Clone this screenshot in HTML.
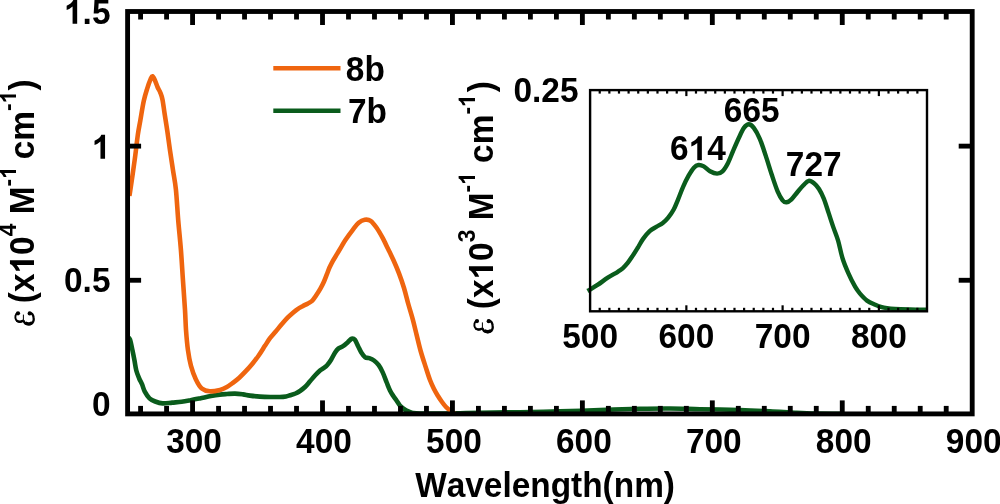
<!DOCTYPE html>
<html><head><meta charset="utf-8"><style>
html,body{margin:0;padding:0;background:#fff;width:1000px;height:504px;overflow:hidden}
svg{display:block;will-change:transform}
text{font-family:"Liberation Sans",sans-serif;font-weight:bold;fill:#000;font-kerning:none}
.ser{font-family:"Liberation Serif",serif;font-style:italic;font-weight:normal;fill:none}
</style></head><body>
<svg width="1000" height="504" viewBox="0 0 1000 504">
<rect width="1000" height="504" fill="#fff"/>
<g fill="none" stroke-linejoin="round" stroke-linecap="butt">
<path d="M128.00,337.50 C128.33,337.83 129.25,337.33 130.00,339.50 C130.75,341.67 131.77,347.08 132.50,350.50 C133.23,353.92 133.77,356.67 134.40,360.00 C135.03,363.33 135.50,367.42 136.30,370.50 C137.10,373.58 138.25,376.22 139.20,378.50 C140.15,380.78 141.07,382.00 142.00,384.20 C142.93,386.40 143.55,389.35 144.80,391.70 C146.05,394.05 147.77,396.67 149.50,398.30 C151.23,399.93 153.00,400.65 155.20,401.50 C157.40,402.35 159.87,403.22 162.70,403.40 C165.53,403.58 169.05,402.87 172.20,402.60 C175.35,402.33 178.65,402.17 181.60,401.80 C184.55,401.43 186.87,400.97 189.90,400.40 C192.93,399.83 196.28,399.13 199.80,398.40 C203.32,397.67 207.68,396.63 211.00,396.00 C214.32,395.37 217.03,394.93 219.70,394.60 C222.37,394.27 224.45,394.17 227.00,394.00 C229.55,393.83 232.33,393.53 235.00,393.60 C237.67,393.67 240.50,394.07 243.00,394.40 C245.50,394.73 247.17,395.23 250.00,395.60 C252.83,395.97 256.67,396.37 260.00,396.60 C263.33,396.83 266.67,396.93 270.00,397.00 C273.33,397.07 277.33,397.10 280.00,397.00 C282.67,396.90 284.33,396.68 286.00,396.40 C287.67,396.12 288.42,395.78 290.00,395.30 C291.58,394.82 293.83,394.22 295.50,393.50 C297.17,392.78 298.42,392.08 300.00,391.00 C301.58,389.92 303.33,388.62 305.00,387.00 C306.67,385.38 308.33,383.22 310.00,381.30 C311.67,379.38 313.33,377.30 315.00,375.50 C316.67,373.70 318.63,371.68 320.00,370.50 C321.37,369.32 322.02,369.28 323.20,368.40 C324.38,367.52 325.78,366.65 327.10,365.20 C328.42,363.75 329.77,361.82 331.10,359.70 C332.43,357.58 333.90,354.35 335.10,352.50 C336.30,350.65 336.98,349.65 338.30,348.60 C339.62,347.55 341.42,347.27 343.00,346.20 C344.58,345.13 346.35,343.45 347.80,342.20 C349.25,340.95 350.52,339.10 351.70,338.70 C352.88,338.30 353.83,338.55 354.90,339.80 C355.97,341.05 357.03,344.08 358.10,346.20 C359.17,348.32 360.12,350.65 361.30,352.50 C362.48,354.35 363.88,356.37 365.20,357.30 C366.52,358.23 367.73,357.57 369.20,358.10 C370.67,358.63 372.42,359.32 374.00,360.50 C375.58,361.68 377.25,363.22 378.70,365.20 C380.15,367.18 381.37,369.52 382.70,372.40 C384.03,375.28 385.48,379.48 386.70,382.50 C387.92,385.52 388.90,388.25 390.00,390.50 C391.10,392.75 392.22,394.33 393.30,396.00 C394.38,397.67 395.42,398.93 396.50,400.50 C397.58,402.07 398.70,404.08 399.80,405.40 C400.90,406.72 402.00,407.53 403.10,408.40 C404.20,409.27 405.32,410.00 406.40,410.60 C407.48,411.20 408.50,411.60 409.60,412.00 C410.70,412.40 411.27,412.75 413.00,413.00 C414.73,413.25 415.50,413.40 420.00,413.50 C424.50,413.60 433.33,413.65 440.00,413.60 C446.67,413.55 453.33,413.33 460.00,413.20 C466.67,413.07 470.00,412.97 480.00,412.80 C490.00,412.63 506.67,412.43 520.00,412.20 C533.33,411.97 546.67,411.77 560.00,411.40 C573.33,411.03 586.67,410.43 600.00,410.00 C613.33,409.57 628.33,409.05 640.00,408.80 C651.67,408.55 660.00,408.43 670.00,408.50 C680.00,408.57 688.33,408.95 700.00,409.20 C711.67,409.45 728.33,409.65 740.00,410.00 C751.67,410.35 760.83,410.83 770.00,411.30 C779.17,411.77 787.50,412.42 795.00,412.80 C802.50,413.18 807.50,413.45 815.00,413.60 C822.50,413.75 835.83,413.68 840.00,413.70" stroke="#0A5C1C" stroke-width="4.6"/>
<path d="M129.40,196.00 C129.53,195.17 129.32,197.03 130.20,191.00 C131.08,184.97 133.43,169.13 134.70,159.80 C135.97,150.47 136.87,141.53 137.80,135.00 C138.73,128.47 139.31,126.25 140.30,120.60 C141.29,114.95 142.60,106.43 143.75,101.10 C144.90,95.77 146.04,92.30 147.20,88.60 C148.36,84.90 149.82,80.95 150.70,78.90 C151.58,76.85 151.80,76.07 152.50,76.30 C153.20,76.53 154.05,78.48 154.90,80.30 C155.75,82.12 156.68,85.12 157.60,87.20 C158.52,89.28 159.58,90.72 160.40,92.80 C161.22,94.88 161.80,96.23 162.50,99.70 C163.20,103.17 163.78,108.27 164.60,113.60 C165.42,118.93 166.52,125.67 167.40,131.70 C168.28,137.73 168.98,143.48 169.90,149.80 C170.82,156.12 171.90,163.00 172.90,169.60 C173.90,176.20 175.02,181.00 175.90,189.40 C176.78,197.80 177.37,209.93 178.20,220.00 C179.03,230.07 180.12,239.88 180.90,249.80 C181.68,259.72 182.22,269.47 182.90,279.50 C183.58,289.53 184.48,301.62 185.00,310.00 C185.52,318.38 185.52,323.18 186.00,329.80 C186.48,336.42 187.08,343.73 187.90,349.70 C188.72,355.67 189.57,360.65 190.90,365.60 C192.23,370.55 194.08,375.60 195.90,379.40 C197.72,383.20 199.48,386.42 201.80,388.40 C204.12,390.38 206.77,391.05 209.80,391.30 C212.83,391.55 217.23,390.57 220.00,389.90 C222.77,389.23 224.25,388.48 226.40,387.30 C228.55,386.12 230.75,384.40 232.90,382.80 C235.05,381.20 237.15,379.63 239.30,377.70 C241.45,375.77 243.65,373.48 245.80,371.20 C247.95,368.92 250.05,366.62 252.20,364.00 C254.35,361.38 256.55,358.57 258.70,355.50 C260.85,352.43 263.22,348.48 265.10,345.60 C266.98,342.72 268.23,340.55 270.00,338.20 C271.77,335.85 273.75,333.82 275.70,331.50 C277.65,329.18 279.72,326.60 281.70,324.30 C283.68,322.00 285.62,319.72 287.60,317.70 C289.58,315.68 291.87,313.68 293.60,312.20 C295.33,310.72 296.50,309.80 298.00,308.80 C299.50,307.80 300.93,307.10 302.60,306.20 C304.27,305.30 306.42,304.28 308.00,303.40 C309.58,302.52 310.83,302.10 312.10,300.90 C313.37,299.70 314.22,298.25 315.60,296.20 C316.98,294.15 319.02,291.02 320.40,288.60 C321.78,286.18 322.85,284.02 323.90,281.70 C324.95,279.38 325.78,277.02 326.70,274.70 C327.62,272.38 328.37,270.12 329.40,267.80 C330.43,265.48 331.62,263.12 332.90,260.80 C334.18,258.48 335.70,256.22 337.10,253.90 C338.50,251.58 339.92,249.22 341.30,246.90 C342.68,244.58 343.48,242.85 345.40,240.00 C347.32,237.15 350.58,232.67 352.80,229.80 C355.02,226.93 356.72,224.47 358.70,222.80 C360.68,221.13 362.72,220.13 364.70,219.80 C366.68,219.47 368.62,219.47 370.60,220.80 C372.58,222.13 374.62,224.98 376.60,227.80 C378.58,230.62 380.60,234.20 382.50,237.70 C384.40,241.20 386.17,245.03 388.00,248.80 C389.83,252.57 391.67,256.20 393.50,260.30 C395.33,264.40 397.25,268.78 399.00,273.40 C400.75,278.02 402.45,282.90 404.00,288.00 C405.55,293.10 406.82,298.70 408.30,304.00 C409.78,309.30 411.48,314.53 412.90,319.80 C414.32,325.07 415.48,330.32 416.80,335.60 C418.12,340.88 419.30,346.20 420.80,351.50 C422.30,356.80 424.27,362.65 425.80,367.40 C427.33,372.15 428.63,376.40 430.00,380.00 C431.37,383.60 432.67,386.33 434.00,389.00 C435.33,391.67 436.67,393.83 438.00,396.00 C439.33,398.17 440.67,400.17 442.00,402.00 C443.33,403.83 444.67,405.58 446.00,407.00 C447.33,408.42 448.92,409.58 450.00,410.50 C451.08,411.42 451.67,412.00 452.50,412.50 C453.33,413.00 454.58,413.33 455.00,413.50" stroke="#EF650F" stroke-width="4.6"/>
</g>
<g stroke="#000" stroke-width="4.85" fill="none">
<line x1="140.59" y1="413.9" x2="140.59" y2="405.9"/><line x1="140.59" y1="11.5" x2="140.59" y2="19.5"/><line x1="166.58" y1="413.9" x2="166.58" y2="405.9"/><line x1="166.58" y1="11.5" x2="166.58" y2="19.5"/><line x1="192.57" y1="413.9" x2="192.57" y2="400.4"/><line x1="192.57" y1="11.5" x2="192.57" y2="25.0"/><line x1="218.56" y1="413.9" x2="218.56" y2="405.9"/><line x1="218.56" y1="11.5" x2="218.56" y2="19.5"/><line x1="244.54" y1="413.9" x2="244.54" y2="405.9"/><line x1="244.54" y1="11.5" x2="244.54" y2="19.5"/><line x1="270.53" y1="413.9" x2="270.53" y2="405.9"/><line x1="270.53" y1="11.5" x2="270.53" y2="19.5"/><line x1="296.52" y1="413.9" x2="296.52" y2="405.9"/><line x1="296.52" y1="11.5" x2="296.52" y2="19.5"/><line x1="322.51" y1="413.9" x2="322.51" y2="400.4"/><line x1="322.51" y1="11.5" x2="322.51" y2="25.0"/><line x1="348.50" y1="413.9" x2="348.50" y2="405.9"/><line x1="348.50" y1="11.5" x2="348.50" y2="19.5"/><line x1="374.48" y1="413.9" x2="374.48" y2="405.9"/><line x1="374.48" y1="11.5" x2="374.48" y2="19.5"/><line x1="400.47" y1="413.9" x2="400.47" y2="405.9"/><line x1="400.47" y1="11.5" x2="400.47" y2="19.5"/><line x1="426.46" y1="413.9" x2="426.46" y2="405.9"/><line x1="426.46" y1="11.5" x2="426.46" y2="19.5"/><line x1="452.45" y1="413.9" x2="452.45" y2="400.4"/><line x1="452.45" y1="11.5" x2="452.45" y2="25.0"/><line x1="478.43" y1="413.9" x2="478.43" y2="405.9"/><line x1="478.43" y1="11.5" x2="478.43" y2="19.5"/><line x1="504.42" y1="413.9" x2="504.42" y2="405.9"/><line x1="504.42" y1="11.5" x2="504.42" y2="19.5"/><line x1="530.41" y1="413.9" x2="530.41" y2="405.9"/><line x1="530.41" y1="11.5" x2="530.41" y2="19.5"/><line x1="556.40" y1="413.9" x2="556.40" y2="405.9"/><line x1="556.40" y1="11.5" x2="556.40" y2="19.5"/><line x1="582.38" y1="413.9" x2="582.38" y2="400.4"/><line x1="582.38" y1="11.5" x2="582.38" y2="25.0"/><line x1="608.37" y1="413.9" x2="608.37" y2="405.9"/><line x1="608.37" y1="11.5" x2="608.37" y2="19.5"/><line x1="634.36" y1="413.9" x2="634.36" y2="405.9"/><line x1="634.36" y1="11.5" x2="634.36" y2="19.5"/><line x1="660.35" y1="413.9" x2="660.35" y2="405.9"/><line x1="660.35" y1="11.5" x2="660.35" y2="19.5"/><line x1="686.34" y1="413.9" x2="686.34" y2="405.9"/><line x1="686.34" y1="11.5" x2="686.34" y2="19.5"/><line x1="712.32" y1="413.9" x2="712.32" y2="400.4"/><line x1="712.32" y1="11.5" x2="712.32" y2="25.0"/><line x1="738.31" y1="413.9" x2="738.31" y2="405.9"/><line x1="738.31" y1="11.5" x2="738.31" y2="19.5"/><line x1="764.30" y1="413.9" x2="764.30" y2="405.9"/><line x1="764.30" y1="11.5" x2="764.30" y2="19.5"/><line x1="790.29" y1="413.9" x2="790.29" y2="405.9"/><line x1="790.29" y1="11.5" x2="790.29" y2="19.5"/><line x1="816.27" y1="413.9" x2="816.27" y2="405.9"/><line x1="816.27" y1="11.5" x2="816.27" y2="19.5"/><line x1="842.26" y1="413.9" x2="842.26" y2="400.4"/><line x1="842.26" y1="11.5" x2="842.26" y2="25.0"/><line x1="868.25" y1="413.9" x2="868.25" y2="405.9"/><line x1="868.25" y1="11.5" x2="868.25" y2="19.5"/><line x1="894.24" y1="413.9" x2="894.24" y2="405.9"/><line x1="894.24" y1="11.5" x2="894.24" y2="19.5"/><line x1="920.22" y1="413.9" x2="920.22" y2="405.9"/><line x1="920.22" y1="11.5" x2="920.22" y2="19.5"/><line x1="946.21" y1="413.9" x2="946.21" y2="405.9"/><line x1="946.21" y1="11.5" x2="946.21" y2="19.5"/><line x1="127.6" y1="280.27" x2="141.1" y2="280.27"/><line x1="972.2" y1="280.27" x2="958.7" y2="280.27"/><line x1="127.6" y1="146.13" x2="141.1" y2="146.13"/><line x1="972.2" y1="146.13" x2="958.7" y2="146.13"/>
<rect x="127.6" y="11.5" width="844.60" height="402.40" stroke-linejoin="miter"/>
</g>
<path d="M587.50,291.00 C587.92,290.77 588.27,290.65 590.00,289.60 C591.73,288.55 594.93,286.68 597.90,284.70 C600.87,282.72 604.48,279.85 607.80,277.70 C611.12,275.55 615.32,273.37 617.80,271.80 C620.28,270.23 621.05,269.78 622.70,268.30 C624.35,266.82 626.05,264.97 627.70,262.90 C629.35,260.83 630.95,258.38 632.60,255.90 C634.25,253.42 635.85,250.83 637.60,248.00 C639.35,245.17 641.08,241.70 643.10,238.90 C645.12,236.10 647.52,233.20 649.70,231.20 C651.88,229.20 654.02,228.27 656.20,226.90 C658.38,225.53 660.80,224.55 662.80,223.00 C664.80,221.45 666.38,219.85 668.20,217.60 C670.02,215.35 672.07,212.50 673.70,209.50 C675.33,206.50 676.42,203.42 678.00,199.60 C679.58,195.78 681.43,190.58 683.20,186.60 C684.97,182.62 686.82,178.85 688.60,175.70 C690.38,172.55 692.27,169.48 693.90,167.70 C695.53,165.92 696.75,165.22 698.40,165.00 C700.05,164.78 701.87,165.35 703.80,166.40 C705.73,167.45 707.78,170.10 710.00,171.30 C712.22,172.50 715.02,173.60 717.10,173.60 C719.18,173.60 720.70,173.03 722.50,171.30 C724.30,169.57 726.12,166.63 727.90,163.20 C729.68,159.77 731.37,154.93 733.20,150.70 C735.03,146.47 737.12,141.60 738.90,137.80 C740.68,134.00 742.25,130.15 743.90,127.90 C745.55,125.65 747.15,124.30 748.80,124.30 C750.45,124.30 751.97,125.48 753.80,127.90 C755.63,130.32 757.82,134.18 759.80,138.80 C761.78,143.42 763.72,149.65 765.70,155.60 C767.68,161.55 769.72,168.55 771.70,174.50 C773.68,180.45 775.78,187.00 777.60,191.30 C779.42,195.60 781.12,198.47 782.60,200.30 C784.08,202.13 785.02,202.47 786.50,202.30 C787.98,202.13 789.67,201.02 791.50,199.30 C793.33,197.58 795.52,194.33 797.50,192.00 C799.48,189.67 801.53,187.17 803.40,185.30 C805.27,183.43 806.88,181.10 808.70,180.80 C810.52,180.50 812.58,182.13 814.30,183.50 C816.02,184.87 817.42,186.48 819.00,189.00 C820.58,191.52 822.20,194.62 823.80,198.60 C825.40,202.58 827.02,208.15 828.60,212.90 C830.18,217.65 831.72,222.48 833.30,227.10 C834.88,231.72 836.55,235.37 838.10,240.60 C839.65,245.83 840.92,253.13 842.60,258.50 C844.28,263.87 846.12,268.10 848.20,272.80 C850.28,277.50 853.13,283.23 855.10,286.70 C857.07,290.17 858.02,291.28 860.00,293.60 C861.98,295.92 864.45,298.75 867.00,300.60 C869.55,302.45 873.00,303.67 875.30,304.70 C877.60,305.73 878.85,306.22 880.80,306.80 C882.75,307.38 884.63,307.83 887.00,308.20 C889.37,308.57 891.17,308.78 895.00,309.00 C898.83,309.22 904.83,309.37 910.00,309.50 C915.17,309.63 923.33,309.75 926.00,309.80" stroke="#0A5C1C" stroke-width="4.4" fill="none" stroke-linejoin="round"/>
<g stroke="#000" stroke-width="2.2" fill="none">
<line x1="599.73" y1="311.3" x2="599.73" y2="307.8"/><line x1="599.73" y1="90.1" x2="599.73" y2="93.6"/><line x1="609.35" y1="311.3" x2="609.35" y2="307.8"/><line x1="609.35" y1="90.1" x2="609.35" y2="93.6"/><line x1="618.98" y1="311.3" x2="618.98" y2="307.8"/><line x1="618.98" y1="90.1" x2="618.98" y2="93.6"/><line x1="628.60" y1="311.3" x2="628.60" y2="307.8"/><line x1="628.60" y1="90.1" x2="628.60" y2="93.6"/><line x1="638.23" y1="311.3" x2="638.23" y2="307.8"/><line x1="638.23" y1="90.1" x2="638.23" y2="93.6"/><line x1="647.85" y1="311.3" x2="647.85" y2="307.8"/><line x1="647.85" y1="90.1" x2="647.85" y2="93.6"/><line x1="657.48" y1="311.3" x2="657.48" y2="307.8"/><line x1="657.48" y1="90.1" x2="657.48" y2="93.6"/><line x1="667.11" y1="311.3" x2="667.11" y2="307.8"/><line x1="667.11" y1="90.1" x2="667.11" y2="93.6"/><line x1="676.73" y1="311.3" x2="676.73" y2="307.8"/><line x1="676.73" y1="90.1" x2="676.73" y2="93.6"/><line x1="686.36" y1="311.3" x2="686.36" y2="305.3"/><line x1="686.36" y1="90.1" x2="686.36" y2="96.1"/><line x1="695.98" y1="311.3" x2="695.98" y2="307.8"/><line x1="695.98" y1="90.1" x2="695.98" y2="93.6"/><line x1="705.61" y1="311.3" x2="705.61" y2="307.8"/><line x1="705.61" y1="90.1" x2="705.61" y2="93.6"/><line x1="715.23" y1="311.3" x2="715.23" y2="307.8"/><line x1="715.23" y1="90.1" x2="715.23" y2="93.6"/><line x1="724.86" y1="311.3" x2="724.86" y2="307.8"/><line x1="724.86" y1="90.1" x2="724.86" y2="93.6"/><line x1="734.49" y1="311.3" x2="734.49" y2="307.8"/><line x1="734.49" y1="90.1" x2="734.49" y2="93.6"/><line x1="744.11" y1="311.3" x2="744.11" y2="307.8"/><line x1="744.11" y1="90.1" x2="744.11" y2="93.6"/><line x1="753.74" y1="311.3" x2="753.74" y2="307.8"/><line x1="753.74" y1="90.1" x2="753.74" y2="93.6"/><line x1="763.36" y1="311.3" x2="763.36" y2="307.8"/><line x1="763.36" y1="90.1" x2="763.36" y2="93.6"/><line x1="772.99" y1="311.3" x2="772.99" y2="307.8"/><line x1="772.99" y1="90.1" x2="772.99" y2="93.6"/><line x1="782.61" y1="311.3" x2="782.61" y2="305.3"/><line x1="782.61" y1="90.1" x2="782.61" y2="96.1"/><line x1="792.24" y1="311.3" x2="792.24" y2="307.8"/><line x1="792.24" y1="90.1" x2="792.24" y2="93.6"/><line x1="801.87" y1="311.3" x2="801.87" y2="307.8"/><line x1="801.87" y1="90.1" x2="801.87" y2="93.6"/><line x1="811.49" y1="311.3" x2="811.49" y2="307.8"/><line x1="811.49" y1="90.1" x2="811.49" y2="93.6"/><line x1="821.12" y1="311.3" x2="821.12" y2="307.8"/><line x1="821.12" y1="90.1" x2="821.12" y2="93.6"/><line x1="830.74" y1="311.3" x2="830.74" y2="307.8"/><line x1="830.74" y1="90.1" x2="830.74" y2="93.6"/><line x1="840.37" y1="311.3" x2="840.37" y2="307.8"/><line x1="840.37" y1="90.1" x2="840.37" y2="93.6"/><line x1="849.99" y1="311.3" x2="849.99" y2="307.8"/><line x1="849.99" y1="90.1" x2="849.99" y2="93.6"/><line x1="859.62" y1="311.3" x2="859.62" y2="307.8"/><line x1="859.62" y1="90.1" x2="859.62" y2="93.6"/><line x1="869.25" y1="311.3" x2="869.25" y2="307.8"/><line x1="869.25" y1="90.1" x2="869.25" y2="93.6"/><line x1="878.87" y1="311.3" x2="878.87" y2="305.3"/><line x1="878.87" y1="90.1" x2="878.87" y2="96.1"/><line x1="888.50" y1="311.3" x2="888.50" y2="307.8"/><line x1="888.50" y1="90.1" x2="888.50" y2="93.6"/><line x1="898.12" y1="311.3" x2="898.12" y2="307.8"/><line x1="898.12" y1="90.1" x2="898.12" y2="93.6"/><line x1="907.75" y1="311.3" x2="907.75" y2="307.8"/><line x1="907.75" y1="90.1" x2="907.75" y2="93.6"/><line x1="917.37" y1="311.3" x2="917.37" y2="307.8"/><line x1="917.37" y1="90.1" x2="917.37" y2="93.6"/>
</g>
<rect x="590.1" y="90.1" width="336.90" height="221.20" stroke="#000" stroke-width="2.4" fill="none"/>
<!-- legend -->
<line x1="273.3" y1="68.2" x2="340.5" y2="68.2" stroke="#EF650F" stroke-width="4.6"/>
<line x1="273.3" y1="110.8" x2="340.5" y2="110.8" stroke="#0A5C1C" stroke-width="4.6"/>
<text transform="translate(345.80,80.60) scale(0.95,1)" font-size="35.2">8b</text>
<text transform="translate(348.00,123.00) scale(0.95,1)" font-size="35.2">7b</text>
<!-- y labels -->
<path d="M806 0H525V1059Q371 915 162 846V1101Q272 1137 401 1237Q530 1338 578 1472H806Z" transform="translate(64.01,23.70) scale(0.01633,-0.01633)"/><text transform="translate(82.61,23.70) scale(0.95,1)" font-size="35.2">.5</text>
<path d="M806 0H525V1059Q371 915 162 846V1101Q272 1137 401 1237Q530 1338 578 1472H806Z" transform="translate(91.90,158.70) scale(0.01633,-0.01633)"/>
<text transform="translate(64.01,291.50) scale(0.95,1)" font-size="35.2">0.5</text>
<text transform="translate(91.90,416.30) scale(0.95,1)" font-size="35.2">0</text>
<text transform="translate(166.17,452.50) scale(0.95,1)" font-size="35.2">300</text><text transform="translate(296.11,452.50) scale(0.95,1)" font-size="35.2">400</text><text transform="translate(426.05,452.50) scale(0.95,1)" font-size="35.2">500</text><text transform="translate(555.99,452.50) scale(0.95,1)" font-size="35.2">600</text><text transform="translate(685.93,452.50) scale(0.95,1)" font-size="35.2">700</text><text transform="translate(815.86,452.50) scale(0.95,1)" font-size="35.2">800</text><text transform="translate(945.80,452.50) scale(0.95,1)" font-size="35.2">900</text>
<text transform="translate(415.16,497.00) scale(0.977,1)" font-size="34.2">Wavelength(nm)</text>
<!-- inset labels -->
<text transform="translate(513.42,101.50) scale(0.95,1)" font-size="35.2">0.25</text>
<text transform="translate(562.20,347.50) scale(0.95,1)" font-size="35.2">500</text><text transform="translate(658.46,347.50) scale(0.95,1)" font-size="35.2">600</text><text transform="translate(754.72,347.50) scale(0.95,1)" font-size="35.2">700</text><text transform="translate(850.97,347.50) scale(0.95,1)" font-size="35.2">800</text>
<text transform="translate(670.10,160.30) scale(0.95,1)" font-size="35.2">6</text><path d="M806 0H525V1059Q371 915 162 846V1101Q272 1137 401 1237Q530 1338 578 1472H806Z" transform="translate(688.70,160.30) scale(0.01633,-0.01633)"/><text transform="translate(707.30,160.30) scale(0.95,1)" font-size="35.2">4</text>
<text transform="translate(723.80,122.00) scale(0.95,1)" font-size="35.2">665</text>
<text transform="translate(785.80,175.50) scale(0.95,1)" font-size="35.2">727</text>
<!-- y titles -->
<g transform="translate(34,326) rotate(-90)"><text class="ser" fill="none" transform="translate(0.00,0.00) scale(0.95,1)" font-size="40">ε</text><text transform="translate(13.47,0.00) scale(0.95,1)" font-size="35.2"> (x</text><path d="M806 0H525V1059Q371 915 162 846V1101Q272 1137 401 1237Q530 1338 578 1472H806Z" transform="translate(52.50,0.00) scale(0.01633,-0.01633)"/><text transform="translate(71.10,0.00) scale(0.95,1)" font-size="35.2">0</text><text transform="translate(89.69,-18.00) scale(0.95,1)" font-size="24">4</text><text transform="translate(102.37,0.00) scale(0.95,1)" font-size="35.2"> M</text><text transform="translate(139.52,-18.00) scale(0.95,1)" font-size="24">-</text><path d="M806 0H525V1059Q371 915 162 846V1101Q272 1137 401 1237Q530 1338 578 1472H806Z" transform="translate(147.11,-18.00) scale(0.01113,-0.01113)"/><text transform="translate(157.39,0.00) scale(0.95,1)" font-size="35.2"> cm</text><text transform="translate(215.01,-18.00) scale(0.95,1)" font-size="24">-</text><path d="M806 0H525V1059Q371 915 162 846V1101Q272 1137 401 1237Q530 1338 578 1472H806Z" transform="translate(222.61,-18.00) scale(0.01113,-0.01113)"/><text transform="translate(235.59,0.00) scale(0.95,1)" font-size="35.2">)</text></g>
<g transform="translate(493,332) rotate(-90)"><text class="ser" fill="none" transform="translate(0.00,0.00) scale(0.95,1)" font-size="40">ε</text><text transform="translate(13.47,0.00) scale(0.95,1)" font-size="35.2"> (x</text><path d="M806 0H525V1059Q371 915 162 846V1101Q272 1137 401 1237Q530 1338 578 1472H806Z" transform="translate(52.50,0.00) scale(0.01633,-0.01633)"/><text transform="translate(71.10,0.00) scale(0.95,1)" font-size="35.2">0</text><text transform="translate(89.69,-18.00) scale(0.95,1)" font-size="24">3</text><text transform="translate(102.37,0.00) scale(0.95,1)" font-size="35.2"> M</text><text transform="translate(139.52,-18.00) scale(0.95,1)" font-size="24">-</text><path d="M806 0H525V1059Q371 915 162 846V1101Q272 1137 401 1237Q530 1338 578 1472H806Z" transform="translate(147.11,-18.00) scale(0.01113,-0.01113)"/><text transform="translate(159.79,0.00) scale(0.95,1)" font-size="35.2"> cm</text><text transform="translate(217.41,-18.00) scale(0.95,1)" font-size="24">-</text><path d="M806 0H525V1059Q371 915 162 846V1101Q272 1137 401 1237Q530 1338 578 1472H806Z" transform="translate(225.01,-18.00) scale(0.01113,-0.01113)"/><text transform="translate(239.69,0.00) scale(0.95,1)" font-size="35.2">)</text></g>
<g fill="none" stroke="#000" transform="translate(0,0)"><path d="M17.9,312.9 C15.2,313.5 14.8,317.5 16,319.8 C17.2,322 20.5,322.8 23.4,320.3" stroke-width="1.9"/><path d="M23.4,320.3 C24.5,323.5 27,324.8 30,324.3 C33,323.8 34.2,320.5 33.6,317.5 C33.2,315 31.5,313 29.8,312.9" stroke-width="2.3"/><path d="M25.2,322.6 C27,324.2 30.5,324.3 32.3,322.4" stroke-width="3.2"/><path d="M16.6,320.6 C18.5,322 21,321.9 22.6,320.9" stroke-width="2.4"/><circle cx="18" cy="313.3" r="2.1" fill="#000" stroke="none"/><circle cx="29.7" cy="313.4" r="2.1" fill="#000" stroke="none"/><path d="M23.4,314.6 L23.4,320.5" stroke-width="1"/></g>
<g fill="none" stroke="#000" transform="translate(459,7.8)"><path d="M17.9,312.9 C15.2,313.5 14.8,317.5 16,319.8 C17.2,322 20.5,322.8 23.4,320.3" stroke-width="1.9"/><path d="M23.4,320.3 C24.5,323.5 27,324.8 30,324.3 C33,323.8 34.2,320.5 33.6,317.5 C33.2,315 31.5,313 29.8,312.9" stroke-width="2.3"/><path d="M25.2,322.6 C27,324.2 30.5,324.3 32.3,322.4" stroke-width="3.2"/><path d="M16.6,320.6 C18.5,322 21,321.9 22.6,320.9" stroke-width="2.4"/><circle cx="18" cy="313.3" r="2.1" fill="#000" stroke="none"/><circle cx="29.7" cy="313.4" r="2.1" fill="#000" stroke="none"/><path d="M23.4,314.6 L23.4,320.5" stroke-width="1"/></g>
</svg>
</body></html>
